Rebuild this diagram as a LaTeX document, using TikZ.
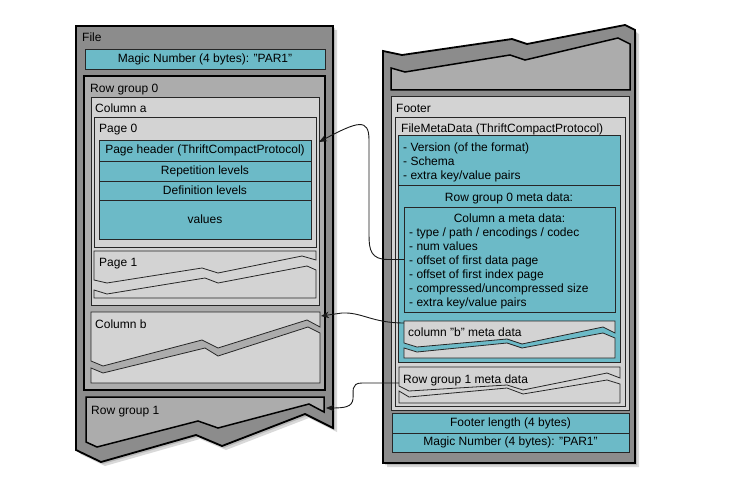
\documentclass[tikz,border=0pt]{standalone}
\usepackage{fontspec}
\setmainfont{Liberation Sans}
\usetikzlibrary{arrows.meta}
\definecolor{cy}{RGB}{108,186,199}
\definecolor{gA}{RGB}{140,140,140}
\definecolor{gB}{RGB}{172,172,172}
\definecolor{gC}{RGB}{211,211,211}
\begin{document}
\begin{tikzpicture}[x=1pt,y=-1pt,
  font=\fontsize{12}{14}\selectfont,
  rbox/.style={draw=black!85, line width=0.8pt, inner sep=0pt, outer sep=0pt, anchor=north west},
  cybox/.style={rbox, fill=cy},
  gbox/.style={rbox, fill=gC},
  heavy/.style={draw=black, line width=1.8pt},
  thin/.style={draw=black!85, line width=0.8pt},
  lbl/.style={anchor=base west, inner sep=0pt},
  clbl/.style={anchor=base, inner sep=0pt},
  shad/.style={fill=black, opacity=0.15},
  link/.style={draw=black!90, line width=0.9pt, -{Stealth[length=8pt,width=6.5pt]}},
]
\useasboundingbox (0,0) rectangle (749,484);
\fill[white] (0,0) rectangle (749,484);

% ---------------- left: file -----------------
\def\leftouter{(76,26) -- (333,26) -- (333,428) -- (305,414) -- (222,446) -- (196,435) -- (101,462) -- (76,450) -- cycle}
\fill[shad, shift={(4,4)}] \leftouter;
\fill[shad, shift={(2,2)}] \leftouter;
\path[heavy, fill=gA] \leftouter;
\node[lbl] (lfile) at (82,41.5) {File};
\node[cybox, minimum width=240pt, minimum height=20pt] (magicL) at (85,49) {Magic Number (4 bytes): "PAR1"};

\node[rbox, heavy, fill=gB, minimum width=241pt, minimum height=314pt] (rg0) at (84,76) {};
\node[lbl] (lrg0) at (90,92.5) {Row group 0};

\node[gbox, minimum width=228pt, minimum height=208pt] (cola) at (91,97) {};
\node[lbl] (lcola) at (95,112.5) {Column a};

\node[gbox, minimum width=222pt, minimum height=130pt] (page0) at (94,117) {};
\node[lbl] (lpage0) at (99,132.5) {Page 0};
\node[cybox, minimum width=212pt, minimum height=21pt] (hdr) at (99,140) {Page header (ThriftCompactProtocol)};
\node[cybox, minimum width=212pt, minimum height=20pt] (rep) at (99,161) {Repetition levels};
\node[cybox, minimum width=212pt, minimum height=19pt] (def) at (99,181) {Definition levels};
\node[cybox, minimum width=212pt, minimum height=39pt] (val) at (99,200) {values};

% page 1 (torn)
\path[thin, fill=gC] (94,251) -- (316,251) -- (316,260) -- (302,256) -- (218,273) -- (202,268) -- (107,283) -- (94,280) -- cycle;
\path[thin, fill=gC] (94,290) -- (107,294) -- (205,278) -- (218,283) -- (307,266) -- (316,270) -- (316,298) -- (94,298) -- cycle;
\node[lbl] (lpage1) at (99,266.5) {Page 1};

% column b (torn)
\path[thin, fill=gC] (91,312) -- (320,312) -- (320,327) -- (307,320) -- (218,348) -- (202,340) -- (103,366) -- (91,361) -- cycle;
\path[thin, fill=gC] (91,368) -- (103,373) -- (205,348) -- (218,356) -- (308,327) -- (320,333) -- (320,383) -- (91,383) -- cycle;
\node[lbl] (lcolb) at (95,328.5) {Column b};

% row group 1 (torn)
\path[heavy, line width=1.5pt, fill=gB] (86,397) -- (324,397) -- (324,412) -- (309,404) -- (218,428) -- (198,421) -- (97,447) -- (86,442) -- cycle;
\node[lbl] (lrg1) at (91,414.5) {Row group 1};

% ---------------- right: footer side -----------------
\def\rightouter{(383,51) -- (402,55) -- (512,39) -- (527,44) -- (625,25) -- (635,30) -- (635,463) -- (383,463) -- cycle}
\fill[shad, shift={(4,4)}] \rightouter;
\fill[shad, shift={(2,2)}] \rightouter;
\path[heavy, fill=gA] \rightouter;
\path[heavy, line width=1.5pt, fill=gB] (391,68) -- (405,72) -- (510,55) -- (525,60) -- (618,38) -- (630,44) -- (630,90) -- (391,90) -- cycle;

\node[gbox, minimum width=238pt, minimum height=314pt] (footer) at (391,96) {};
\node[lbl] (lfooter) at (396,112.5) {Footer};
\node[gbox, minimum width=230pt, minimum height=289pt] (fmd) at (395,117) {};
\node[lbl] (lfmd) at (401,132.5) {FileMetaData (ThriftCompactProtocol)};

\node[cybox, minimum width=222pt, minimum height=50pt] (ver) at (398,135) {};
\node[lbl] (v1) at (403,151.3) {- Version (of the format)};
\node[lbl] (v2) at (403,165.3) {- Schema};
\node[lbl] (v3) at (403,179.3) {- extra key/value pairs};

\node[cybox, minimum width=222pt, minimum height=177pt] (rg0m) at (398,185) {};
\node[clbl] (lrg0m) at (509,201.3) {Row group 0 meta data:};

\node[rbox, minimum width=211pt, minimum height=105pt] (camet) at (404,207) {};
\node[clbl] (lcam) at (509.5,222.3) {Column a meta data:};
\node[lbl] (m1) at (409,236.3) {- type / path / encodings / codec};
\node[lbl] (m2) at (409,250.3) {- num values};
\node[lbl] (m3) at (409,264.3) {- offset of first data page};
\node[lbl] (m4) at (409,278.3) {- offset of first index page};
\node[lbl] (m5) at (409,292.3) {- compressed/uncompressed size};
\node[lbl] (m6) at (409,306.3) {- extra key/value pairs};

% column b meta data (torn)
\path[thin, fill=gC] (404,321) -- (615,321) -- (615,333) -- (603,327) -- (522,344) -- (507,339) -- (417,347) -- (404,343) -- cycle;
\path[thin, fill=gC] (404,348) -- (417,352) -- (507,343) -- (522,348) -- (603,333) -- (615,338) -- (615,358) -- (404,358) -- cycle;
\node[lbl] (lcbm) at (408,336.3) {column "b" meta data};

% row group 1 meta data (torn)
\path[thin, fill=gC] (399,367) -- (620,367) -- (620,378) -- (607,373) -- (523,390) -- (507,385) -- (409,391) -- (399,386) -- cycle;
\path[thin, fill=gC] (399,391) -- (409,397) -- (507,388) -- (523,394) -- (607,380) -- (620,384) -- (620,403) -- (399,403) -- cycle;
\node[lbl] (lrg1m) at (403,383.3) {Row group 1 meta data};

\node[cybox, minimum width=237pt, minimum height=20pt] (flen) at (392,413) {Footer length (4 bytes)};
\node[cybox, minimum width=237pt, minimum height=19pt] (magicR) at (392,433) {Magic Number (4 bytes): "PAR1"};

% ---------------- connectors -----------------
\coordinate (t1) at (319,142);
\coordinate (cbm) at (404,323);
\coordinate (t2) at (321,316);
\coordinate (rgm) at (399,383);
\coordinate (t3) at (326,408);

\draw[link] (camet.west) -- (388,259.5) .. controls (371,259.5) and (369,250) .. (369,235) -- (369,140) .. controls (369,118) and (358,121) .. (t1);
\draw[link] (cbm) .. controls (372,323) and (362,312) .. (342,313) -- (t2);
\draw[link] (rgm) -- (362,383) .. controls (350,383) and (354,392) .. (353,399) .. controls (352,407) and (345,408) .. (t3);
\end{tikzpicture}
\end{document}
